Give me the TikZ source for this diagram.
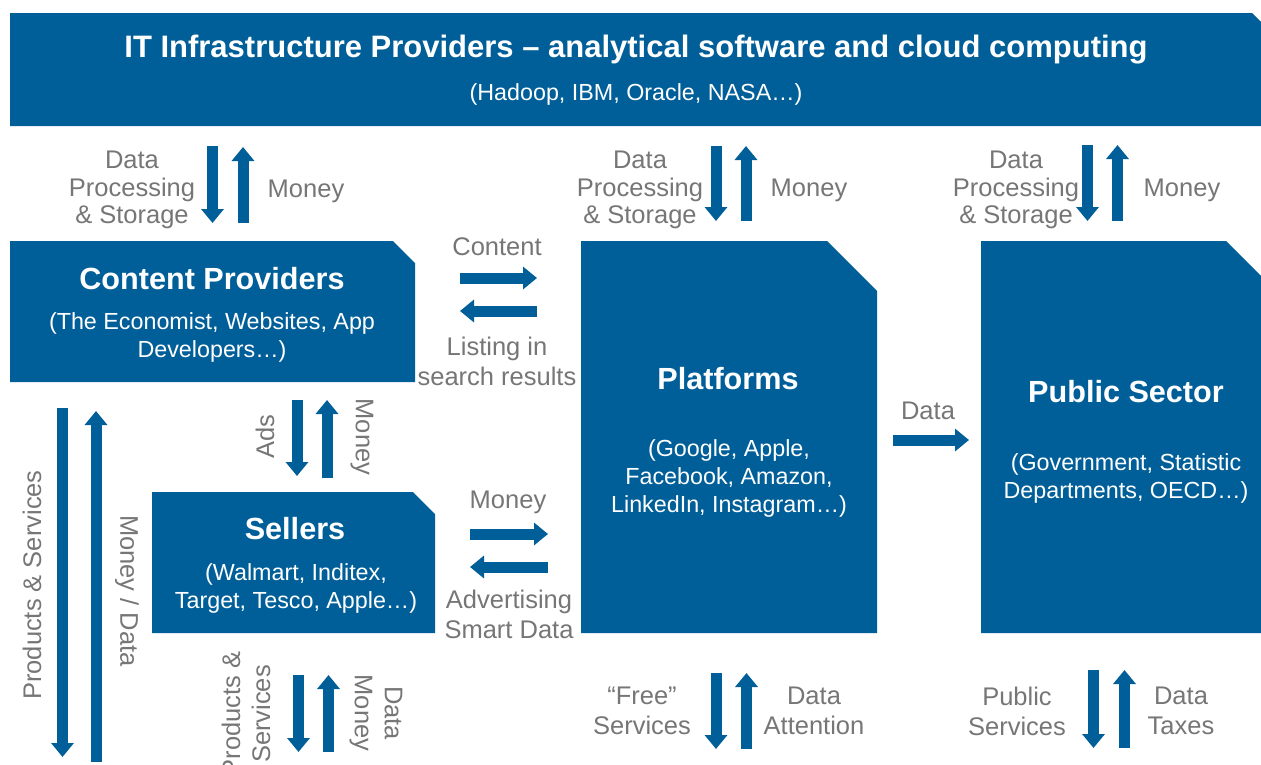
\documentclass[tikz,border=0pt]{standalone}
\usepackage{fontspec}
\setmainfont{Liberation Sans}
\usetikzlibrary{arrows.meta}
\definecolor{boxblue}{RGB}{0,95,153}
\definecolor{labelgray}{RGB}{118,118,118}
\newcommand{\cutbox}[2]{\fill[boxblue] (#1.south west) -- (#1.north west) -- ([xshift=-#2]#1.north east) -- ([yshift=-#2]#1.north east) -- (#1.south east) -- cycle;}
\tikzset{
  box/.style={rectangle, draw=none, inner sep=0pt, outer sep=0pt},
  flow/.style={draw=boxblue, line width=11pt, -{Triangle[length=14pt,width=22pt]}},
  lbl/.style={text=labelgray, font=\fontsize{25.5}{30}\selectfont, align=center, inner sep=0pt},
  headtxt/.style={text=white, font=\bfseries\fontsize{30.6}{36}\selectfont, inner sep=0pt},
  subtxt/.style={text=white, font=\fontsize{23.3}{28}\selectfont, align=center, inner sep=0pt}
}
\begin{document}
\begin{tikzpicture}[x=1pt,y=-1pt]
      \useasboundingbox (0,0) rectangle (1261,764);
      \clip (0,0) rectangle (1261,764);

      \node[box, minimum width=1252pt, minimum height=113pt] (infra) at (636,69.5) {};
      \node[box, minimum width=405pt, minimum height=141pt] (cont) at (212.5,311.5) {};
      \node[box, minimum width=283pt, minimum height=141pt] (sell) at (293.5,562.5) {};
      \node[box, minimum width=296pt, minimum height=392pt] (plat) at (729,437) {};
      \node[box, minimum width=290pt, minimum height=392pt] (pub) at (1126,437) {};
      \cutbox{infra}{10pt}
      \cutbox{cont}{22pt}
      \cutbox{sell}{22pt}
      \cutbox{plat}{50pt}
      \cutbox{pub}{45pt}

      \node[headtxt, font=\bfseries\fontsize{31}{36}\selectfont] (infrat) at (636,50) {IT Infrastructure Providers – analytical software and cloud computing};
      \node[subtxt] (infras) at (636,94) {(Hadoop, IBM, Oracle, NASA…)};
      \node[headtxt] (contt) at (212,279) {Content Providers};
      \node[subtxt] (conts) at (212,337) {(The Economist, Websites, App\\Developers…)};
      \node[headtxt] (sellt) at (295,529) {Sellers};
      \node[subtxt] (sells) at (296,588) {(Walmart, Inditex,\\Target, Tesco, Apple…)};
      \node[headtxt] (platt) at (728,379) {Platforms};
      \node[subtxt] (plats) at (729,478) {(Google, Apple,\\Facebook, Amazon,\\LinkedIn, Instagram…)};
      \node[headtxt] (pubt) at (1126,392) {Public Sector};
      \node[subtxt] (pubs) at (1126,478) {(Government, Statistic\\Departments, OECD…)};

      \foreach \n/\xa/\ya/\xb/\yb in {a1/212.5/146/212.5/223, a2/243/223/243/147, a3/716/146/716/221, a4/746/221/746/146,
          a5/1087.5/145/1087.5/221, a6/1117.5/221/1117.5/145, a7/460/278/537/278, a8/537/311/460/311,
          a9/297/400/297/476, a10/327/478/327/400, a11/470/534/548/534, a12/548/567/470/567,
          a13/893/440/969/440, a14/62.5/408/62.5/757, a15/96/762/96/411, a16/298.5/675/298.5/752,
          a17/328.5/752/328.5/675, a18/716/673/716/749, a19/746.5/749/746.5/673, a20/1093.5/670/1093.5/748,
          a21/1124.5/748/1124.5/670} {
        \coordinate (\n-s) at (\xa,\ya);
        \coordinate (\n-e) at (\xb,\yb);
        \draw[flow] (\n-s) -- (\n-e);
      }

      \node[lbl, font=\fontsize{25.5}{27.5}\selectfont] (dps1) at (132,190) {Data\\Processing\\\& Storage};
      \node[lbl] (mon1) at (306,191) {Money};
      \node[lbl, font=\fontsize{25.5}{27.5}\selectfont] (dps2) at (640,190) {Data\\Processing\\\& Storage};
      \node[lbl] (mon2) at (809,190) {Money};
      \node[lbl, font=\fontsize{25.5}{27.5}\selectfont] (dps3) at (1016,190) {Data\\Processing\\\& Storage};
      \node[lbl] (mon3) at (1182,190) {Money};
      \node[lbl] (cnt) at (497,247) {Content};
      \node[lbl] (lst) at (497,361) {Listing in\\search results};
      \node[lbl, rotate=90] (ads) at (265,437) {Ads};
      \node[lbl, rotate=-90] (mon4) at (362,437) {Money};
      \node[lbl] (mon5) at (508,502) {Money};
      \node[lbl] (adv) at (509,614) {Advertising\\Smart Data};
      \node[lbl] (dat) at (928,411) {Data};
      \node[lbl, rotate=90] (prs) at (32,585) {Products \& Services};
      \node[lbl, rotate=-90] (mdt) at (127,591) {Money / Data};
      \node[lbl, rotate=90] (prs2) at (246,714) {Products \&\\Services};
      \node[lbl, rotate=-90] (dtm) at (376,713) {Data\\Money};
      \node[lbl] (free) at (642,711) {“Free”\\Services};
      \node[lbl] (dta) at (814,711) {Data\\Attention};
      \node[lbl] (pubsv) at (1017,711) {Public\\Services};
      \node[lbl] (dtt) at (1181,711) {Data\\Taxes};
    \end{tikzpicture}
\end{document}
